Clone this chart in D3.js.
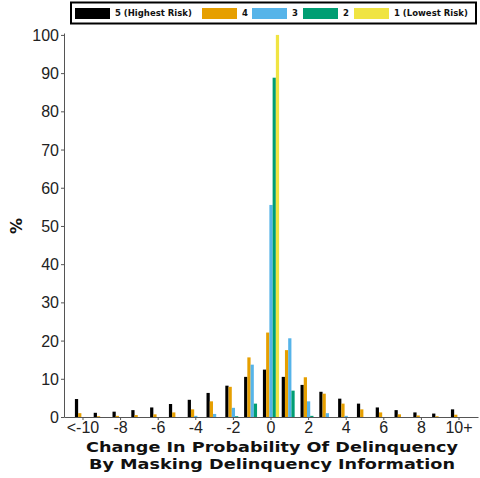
<!DOCTYPE html>
<html>
<head>
<meta charset="utf-8">
<script src="https://cdn.jsdelivr.net/npm/d3@7"></script>
<style>
  body { margin: 0; background: #fff; }
  svg { display: block; font-family: "DejaVu Sans", sans-serif; }
  .axis text { fill: #222; font-size: 16px; }
  .axis path, .axis line { stroke: #555; }
</style>
</head>
<body>
<div id="chart"></div>
<script>
const categories = ["<-10", "-9", "-8", "-7", "-6", "-5", "-4", "-3", "-2", "-1", "0",
  "1", "2", "3", "4", "5", "6", "7", "8", "9", "10+"];
const tickLabels = ["<-10", "-8", "-6", "-4", "-2", "0", "2", "4", "6", "8", "10+"];
const seriesNames = ["5 (Highest Risk)", "4", "3", "2", "1 (Lowest Risk)"];
const seriesColors = ["#000000", "#E69F00", "#56B4E9", "#009E73", "#F0E442"];

const risk5 = [4.7, 1.1, 1.4, 1.8, 2.5, 3.4, 4.5, 6.3, 8.2, 10.5, 12.4,
  10.5, 8.4, 6.6, 4.8, 3.5, 2.5, 1.8, 1.2, 0.9, 2.0];
const risk4 = [1.0, 0.2, 0.3, 0.5, 0.7, 1.2, 2.0, 4.1, 7.9, 15.6, 22.1,
  17.5, 10.4, 6.1, 3.5, 2.0, 1.2, 0.7, 0.4, 0.2, 0.6];
const risk3 = [0, 0, 0, 0, 0, 0, 0.3, 0.8, 2.4, 13.7, 55.5,
  20.6, 4.1, 1.0, 0.3, 0, 0, 0, 0, 0, 0];
const risk2 = [0, 0, 0, 0, 0, 0, 0, 0, 0.2, 3.5, 88.8,
  6.9, 0.3, 0, 0, 0, 0, 0, 0, 0, 0];
const risk1 = [0, 0, 0, 0, 0, 0, 0, 0, 0, 0, 100,
  0, 0, 0, 0, 0, 0, 0, 0, 0, 0];

const seriesValues = [risk5, risk4, risk3, risk2, risk1];

const width = 480;
const height = 478;
const margin = { top: 33, right: 2, bottom: 61, left: 64 };

const svg = d3.select("#chart")
  .append("svg")
  .attr("width", width)
  .attr("height", height);

const x = d3.scaleBand()
  .domain(categories)
  .range([margin.left, width - margin.right])
  .paddingInner(0.14)
  .paddingOuter(0.58);

const xSeries = d3.scaleBand()
  .domain(d3.range(seriesNames.length))
  .range([0, x.bandwidth()]);

const y = d3.scaleLinear()
  .domain([0, 100.5])
  .range([height - margin.bottom, margin.top]);

// bars
const rows = [];
seriesValues.forEach((vals, s) => {
  vals.forEach((v, i) => rows.push({ cat: categories[i], s, v }));
});

svg.append("g")
  .attr("class", "bars")
  .selectAll("rect")
  .data(rows)
  .join("rect")
  .attr("x", (d) => x(d.cat) + xSeries(d.s))
  .attr("width", xSeries.bandwidth())
  .attr("y", (d) => y(d.v))
  .attr("height", (d) => y(0) - y(d.v))
  .attr("fill", (d) => seriesColors[d.s]);

// axes
svg.append("g")
  .attr("class", "axis")
  .attr("transform", `translate(0,${y(0)})`)
  .call(
    d3.axisBottom(x)
      .tickValues(tickLabels)
      .tickSize(3)
      .tickSizeOuter(0)
      .tickPadding(2),
  );

svg.append("g")
  .attr("class", "axis")
  .attr("transform", `translate(${margin.left},0)`)
  .call(
    d3.axisLeft(y)
      .tickValues(d3.range(0, 101, 10))
      .tickSize(3)
      .tickSizeOuter(0)
      .tickPadding(2),
  )
  .call((g) => g.selectAll("text").attr("dy", "0.35em"));

// axis titles
svg.append("text")
  .attr("transform", `translate(22,${(y(0) + y(100)) / 2}) rotate(-90)`)
  .attr("text-anchor", "middle")
  .attr("font-weight", "bold")
  .attr("font-size", 16)
  .attr("fill", "#111")
  .text("%");

const titleLines = [
  { text: "Change In Probability Of Delinquency", y: 452, len: 372 },
  { text: "By Masking Delinquency Information", y: 469, len: 366 },
];
svg.selectAll(".x-title")
  .data(titleLines)
  .join("text")
  .attr("class", "x-title")
  .attr("x", 272)
  .attr("y", (d) => d.y)
  .attr("text-anchor", "middle")
  .attr("font-weight", "bold")
  .attr("font-size", 14.5)
  .attr("textLength", (d) => d.len)
  .attr("lengthAdjust", "spacingAndGlyphs")
  .attr("fill", "#111")
  .text((d) => d.text);

// legend
const legend = svg.append("g").attr("class", "legend");
legend.append("rect")
  .attr("x", 71)
  .attr("y", 2.5)
  .attr("width", 405)
  .attr("height", 21)
  .attr("fill", "#fff")
  .attr("stroke", "#000")
  .attr("stroke-width", 2);

const legendX = [75, 202, 252, 303, 354];
const item = legend.selectAll(".legend-item")
  .data(seriesNames)
  .join("g")
  .attr("class", "legend-item")
  .attr("transform", (d, i) => `translate(${legendX[i]},8)`);
item.append("rect")
  .attr("width", 35)
  .attr("height", 11)
  .attr("fill", (d, i) => seriesColors[i]);
item.append("text")
  .attr("x", 40)
  .attr("y", 5.5)
  .attr("dy", "0.35em")
  .attr("font-size", 8.5)
  .attr("font-weight", "bold")
  .attr("fill", "#111")
  .text((d) => d);
</script>
</body>
</html>
